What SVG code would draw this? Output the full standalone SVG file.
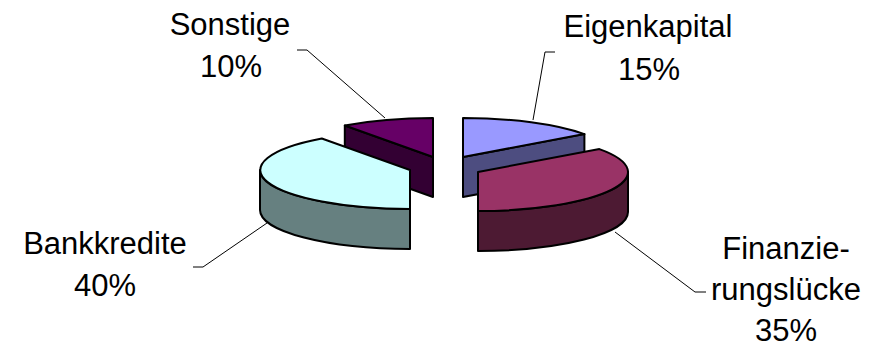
<svg xmlns="http://www.w3.org/2000/svg" width="880" height="347" viewBox="0 0 880 347">
<style>
.f{stroke:#000;stroke-width:2;stroke-linejoin:round}
.l{fill:none;stroke:#000;stroke-width:1}
text{font-family:"Liberation Sans",Arial,sans-serif;font-size:31px;fill:#000;text-anchor:middle}
</style>
<rect width="880" height="347" fill="#fff"/>
<g id="sonstige">
<path class="f" fill="#330033" d="M433,157 L344.8,125.5 L344.8,165.5 L433,197 Z"/>
<path class="f" fill="#660066" d="M433,157 L344.8,125.5 A150,39 0 0 1 433,118 Z"/>
</g>
<g id="eigenkapital">
<path class="f" fill="#4D4D80" d="M463,157 L584.4,134.1 L584.4,174.1 L463,197 Z"/>
<path class="f" fill="#9999FF" d="M463,157 L463,118 A150,39 0 0 1 584.4,134.1 Z"/>
</g>
<g id="bankkredite">
<path class="f" fill="#668080" d="M410,209 A150,39 0 0 1 260,170 L260,210 A150,39 0 0 0 410,249 Z"/>
<path class="f" fill="#CCFFFF" d="M410,170 L410,209 A150,39 0 0 1 321.8,138.5 Z"/>
</g>
<g id="finanzierungsluecke">
<path class="f" fill="#4D1A33" d="M628,172 A150,39 0 0 1 478,211 L478,251 A150,39 0 0 0 628,212 Z"/>
<path class="f" fill="#993366" d="M478,172 L599.4,149.1 A150,39 0 0 1 478,211 Z"/>
</g>
<g id="connectors">
<polyline class="l" points="297,50 307,50 385,118"/>
<polyline class="l" points="555,52 545,52 533,120"/>
<polyline class="l" points="193,267 203,267 267,223"/>
<polyline class="l" points="615,232 695,292 706,292"/>
</g>
<g id="labels">
<text x="230" y="35">Sonstige</text>
<text x="231" y="77">10%</text>
<text x="648" y="37">Eigenkapital</text>
<text x="649" y="80">15%</text>
<text x="105" y="254">Bankkredite</text>
<text x="105" y="296">40%</text>
<text x="786" y="259">Finanzie-</text>
<text x="786" y="300">rungslücke</text>
<text x="786" y="341">35%</text>
</g>
</svg>
